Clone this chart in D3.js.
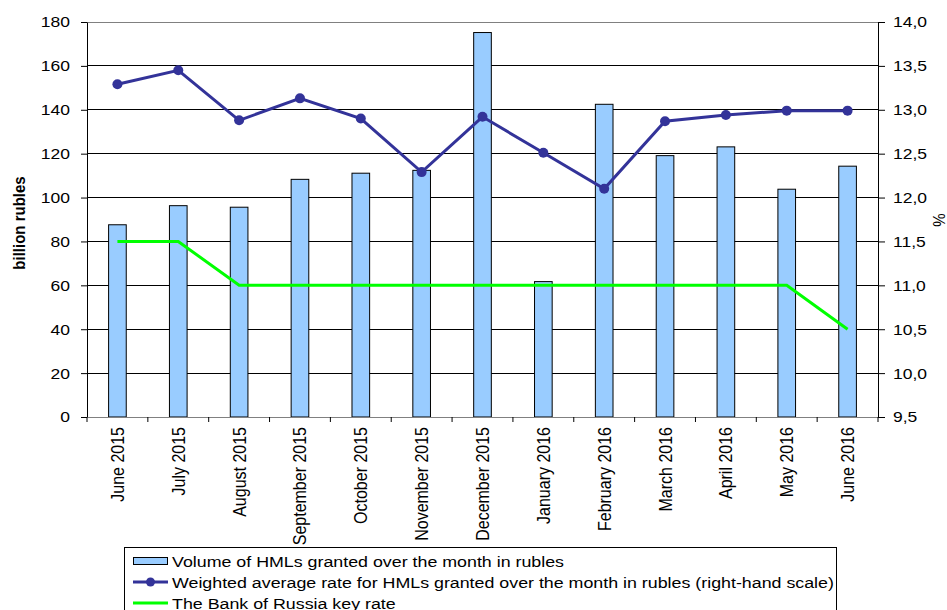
<!DOCTYPE html>
<html>
<head>
<meta charset="utf-8">
<script src="https://cdn.jsdelivr.net/npm/d3@7"></script>
<style>
  body { margin: 0; background: #fff; }
  svg text { font-family: "Liberation Sans", Arial, sans-serif; fill: #000; }
</style>
</head>
<body>
<div id="chart"></div>
<script>
const months = ['June 2015', 'July 2015', 'August 2015', 'September 2015', 'October 2015',
  'November 2015', 'December 2015', 'January 2016', 'February 2016', 'March 2016',
  'April 2016', 'May 2016', 'June 2016'];
const volume = [87.6, 96.3, 95.6, 108.3, 111.1, 112.4, 175.2, 61.7, 142.5, 119.1, 123.1, 103.8, 114.3];
const avgRate = [13.29, 13.45, 12.88, 13.13, 12.90, 12.29, 12.92, 12.51, 12.10, 12.87, 12.94, 12.99, 12.99];
const keyRate = [11.5, 11.5, 11.0, 11.0, 11.0, 11.0, 11.0, 11.0, 11.0, 11.0, 11.0, 11.0, 10.5];
const leftTicks = [0, 20, 40, 60, 80, 100, 120, 140, 160, 180];
const rightTicks = [9.5, 10, 10.5, 11, 11.5, 12, 12.5, 13, 13.5, 14];
const legendLabels = [
  'Volume of HMLs granted over the month in rubles',
  'Weighted average rate for HMLs granted over the month in rubles (right-hand scale)',
  'The Bank of Russia key rate'
];

const width = 947, height = 610;
const pLeft = 87, pRight = 878, pTop = 22, pBottom = 417;
const stretch = 1.13; // the original picture is a bit wider than tall

const svg = d3.select('#chart').append('svg')
  .attr('width', width).attr('height', height);

const x = d3.scaleBand().domain(months).range([pLeft, pRight]);
const y = d3.scaleLinear().domain([0, 180]).range([pBottom, pTop]);
const y2 = d3.scaleLinear().domain([9.5, 14]).range([pBottom, pTop]);
const fmt = d => d.toFixed(1).replace('.', ',');
const cx = m => x(m) + x.bandwidth() / 2;

// gridlines
svg.append('g').selectAll('line')
  .data(leftTicks.filter(d => d > 0 && d < 180))
  .enter().append('line')
  .attr('x1', pLeft).attr('x2', pRight)
  .attr('y1', d => y(d)).attr('y2', d => y(d))
  .attr('stroke', '#000').attr('stroke-width', 1).attr('shape-rendering', 'crispEdges');

svg.append('line').attr('x1', pLeft).attr('x2', pRight)
  .attr('y1', y(180)).attr('y2', y(180))
  .attr('stroke', '#808080').attr('shape-rendering', 'crispEdges');

// bars
const bw = x.bandwidth() * 0.29;
svg.append('g').selectAll('rect')
  .data(volume)
  .enter().append('rect')
  .attr('x', (d, i) => cx(months[i]) - bw / 2)
  .attr('y', d => y(d))
  .attr('width', bw)
  .attr('height', d => y(0) - y(d))
  .attr('fill', '#99ccff')
  .attr('stroke', '#000').attr('stroke-width', 1);

// axes
const leftAxis = svg.append('g').attr('transform', `translate(${pLeft},0)`)
  .call(d3.axisLeft(y).tickValues(leftTicks).tickSize(6).tickPadding(11).tickSizeOuter(0));
const rightAxis = svg.append('g').attr('transform', `translate(${pRight},0)`)
  .call(d3.axisRight(y2).tickValues(rightTicks).tickFormat(fmt).tickSize(7).tickPadding(8).tickSizeOuter(0));
[leftAxis, rightAxis].forEach(a => {
  a.select('.domain').attr('stroke', '#000');
  a.selectAll('.tick line').attr('stroke', '#000');
  a.selectAll('.tick text').each(function () {
    const t = d3.select(this);
    const tx = +t.attr('x');
    t.attr('x', 0)
      .attr('transform', `translate(${tx},0) scale(${stretch},1)`)
      .style('font-size', '15.5px');
  });
});

const xAxis = svg.append('g').attr('transform', `translate(0,${pBottom})`);
xAxis.append('line').attr('x1', pLeft).attr('x2', pRight)
  .attr('stroke', '#808080').attr('shape-rendering', 'crispEdges');
xAxis.selectAll('.xt')
  .data(months.map(m => x(m)).concat([pRight]))
  .enter().append('line')
  .attr('x1', d => d).attr('x2', d => d)
  .attr('y1', 0).attr('y2', 5)
  .attr('stroke', '#000');
xAxis.selectAll('.xl')
  .data(months)
  .enter().append('text')
  .attr('transform', d => `translate(${cx(d) + 6.5},10) scale(${stretch},1) rotate(-90)`)
  .attr('text-anchor', 'end')
  .style('font-size', '16px')
  .text(d => d);

// key rate line
const line2 = d3.line().x((d, i) => cx(months[i])).y(d => y2(d));
svg.append('path').datum(keyRate)
  .attr('d', line2)
  .attr('fill', 'none').attr('stroke', '#00ff00').attr('stroke-width', 3);

// weighted avg rate line
svg.append('path').datum(avgRate)
  .attr('d', line2)
  .attr('fill', 'none').attr('stroke', '#333399').attr('stroke-width', 3);
svg.append('g').selectAll('circle')
  .data(avgRate)
  .enter().append('circle')
  .attr('cx', (d, i) => cx(months[i]))
  .attr('cy', d => y2(d))
  .attr('r', 5)
  .attr('fill', '#333399');

// axis titles
svg.append('text')
  .attr('transform', `translate(25,223) scale(${stretch},1) rotate(-90)`)
  .attr('text-anchor', 'middle')
  .style('font-size', '15px').style('font-weight', 'bold')
  .text('billion rubles');
svg.append('text')
  .attr('transform', `translate(945,220) scale(${stretch},1) rotate(-90)`)
  .attr('text-anchor', 'middle')
  .style('font-size', '15px')
  .text('%');

// legend
const lg = svg.append('g');
lg.append('rect').attr('x', 124.5).attr('y', 547.5).attr('width', 712).attr('height', 80)
  .attr('fill', '#fff').attr('stroke', '#000');
const rowY = [561, 582, 603];
lg.append('rect').attr('x', 133.5).attr('y', rowY[0] - 3.5).attr('width', 34).attr('height', 7)
  .attr('fill', '#99ccff').attr('stroke', '#000');
lg.append('line').attr('x1', 133).attr('x2', 168).attr('y1', rowY[1]).attr('y2', rowY[1])
  .attr('stroke', '#333399').attr('stroke-width', 3);
lg.append('circle').attr('cx', 150.5).attr('cy', rowY[1]).attr('r', 4.5).attr('fill', '#333399');
lg.append('line').attr('x1', 133).attr('x2', 168).attr('y1', rowY[2]).attr('y2', rowY[2])
  .attr('stroke', '#00ff00').attr('stroke-width', 3);
lg.selectAll('.lt')
  .data(legendLabels)
  .enter().append('text')
  .attr('transform', (d, i) => `translate(172,${rowY[i] + 5.5}) scale(1.15,1)`)
  .style('font-size', '15.5px')
  .text(d => d);
</script>
</body>
</html>
